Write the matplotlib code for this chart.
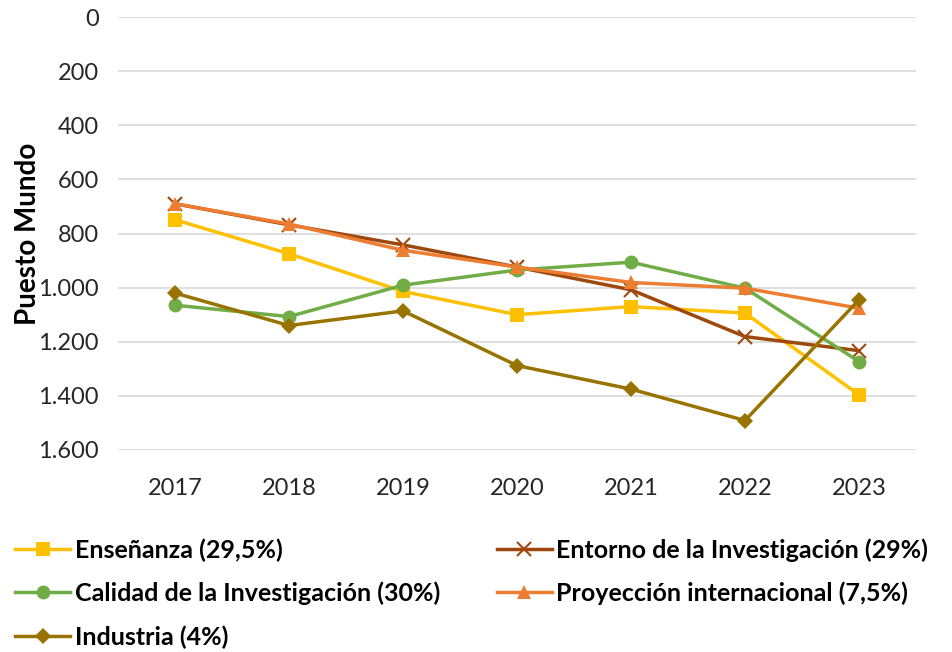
import numpy as np
import matplotlib.pyplot as plt
from matplotlib.ticker import FuncFormatter

plt.rcParams['font.family'] = ['Lato', 'DejaVu Sans']

# Data (rank, lower is better)
years = ['2017', '2018', '2019', '2020', '2021', '2022', '2023']
ensenanza = [749, 875, 1014, 1100, 1070, 1094, 1396]
entorno = [690, 768, 842, 924, 1008, 1181, 1233]
calidad = [1065, 1107, 991, 935, 906, 1002, 1273]
proyeccion = [690, 765, 862, 924, 981, 1002, 1076]
industria = [1020, 1140, 1086, 1288, 1375, 1491, 1045]

labels = ['Enseñanza (29,5%)', 'Entorno de la Investigación (29%)',
          'Calidad de la Investigación (30%)', 'Proyección internacional (7,5%)',
          'Industria (4%)']
colors = ['#FFC000', '#9E480E', '#70AD47', '#ED7D31', '#997300']
markers = ['s', 'x', 'o', '^', 'D']
msizes = [10, 10, 10, 10, 8]

fig = plt.figure(figsize=(9.53, 6.52), dpi=100)
ax = fig.add_axes([118/953, 1-450/652, (916-118)/953, (450-17)/652])

x = np.arange(len(years))
handles = []
for ys, lab, c, m, ms in zip([ensenanza, entorno, calidad, proyeccion, industria],
                             labels, colors, markers, msizes):
    h, = ax.plot(x, ys, color=c, marker=m, markersize=ms, linewidth=2.5,
                 markeredgewidth=1.5 if m == 'x' else 0, label=lab)
    handles.append(h)

ax.set_xlim(-0.5, 6.5)
ax.set_ylim(1600, 0)
ax.set_yticks(range(0, 1601, 200))
ax.yaxis.set_major_formatter(FuncFormatter(lambda v, p: f'{int(v):,}'.replace(',', '.')))
ax.set_xticks(x)
ax.set_xticklabels(years)
ax.grid(axis='y', color='#D9D9D9', linewidth=1.2)
ax.set_axisbelow(True)
for s in ax.spines.values():
    s.set_visible(False)
ax.tick_params(length=0, labelsize=17, colors='#262626', pad=14)
ax.tick_params(axis='x', pad=20)
ax.set_ylabel('Puesto Mundo', fontsize=20, fontweight='bold', labelpad=-2)

order = [0, 2, 4, 1, 3]
fig.legend([handles[i] for i in order], [labels[i] for i in order],
           loc='upper left', bbox_to_anchor=(15/953, 1-538/652), ncol=2,
           frameon=False, borderpad=0, borderaxespad=0, handlelength=2.2,
           handletextpad=0.2, columnspacing=2.25, labelspacing=0.8,
           prop={'size': 18, 'weight': 'bold'})

fig.savefig('out.png', dpi=100)
